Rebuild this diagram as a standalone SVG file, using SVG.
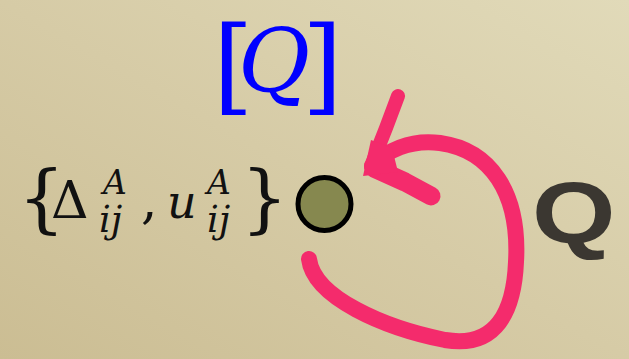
<svg xmlns="http://www.w3.org/2000/svg" width="629" height="359" viewBox="0 0 629 359">
  <defs>
    <linearGradient id="bg" x1="0" y1="1" x2="1" y2="0">
      <stop offset="0" stop-color="#cbbd93"/>
      <stop offset="0.5" stop-color="#d6cba6"/>
      <stop offset="1" stop-color="#e1dab9"/>
    </linearGradient>
    <style>
      .it { font-style: italic; }
      .blk { fill: #111; }
      .blue { fill: #0000ff; }
      .pink { fill: none; stroke: #f42b6c; stroke-linecap: round; stroke-linejoin: round; }
    </style>
  </defs>
  <rect width="629" height="359" fill="url(#bg)"/>

  <g id="label-bracket-q" font-family="'DejaVu Serif', serif">
    <text class="blue"><tspan x="213" y="101" font-size="104">[</tspan><tspan class="it" x="238" y="92" font-size="88">Q</tspan><tspan x="302" y="101" font-size="104">]</tspan></text>
  </g>

  <g id="label-set" font-family="'DejaVu Serif', serif">
    <text class="blk"><tspan x="18" y="224" font-size="74">{</tspan><tspan x="51" y="218" font-size="52">Δ</tspan><tspan class="it" x="103" y="194" font-size="33">A</tspan><tspan class="it" x="99" y="232" font-size="37">ij</tspan><tspan x="141" y="218" font-size="52">,</tspan><tspan class="it" x="167" y="218" font-size="46">u</tspan><tspan class="it" x="207" y="194" font-size="33">A</tspan><tspan class="it" x="207" y="232" font-size="37">ij</tspan><tspan x="241" y="224" font-size="74">}</tspan></text>
  </g>

  <g id="node-circle">
    <circle cx="324.5" cy="204" r="26.5" fill="#86884f" stroke="#000" stroke-width="5"/>
  </g>

  <g id="label-q">
    <text transform="translate(532 243) scale(1.22 1)" x="0" y="0" font-family="'Liberation Sans', Arial, sans-serif" font-weight="bold" font-size="88" fill="#3b3731">Q</text>
  </g>

  <g id="connectors">
    <path class="pink" stroke-width="16" d="M309 259 C314 298 385 328 445 340 C497 349 514 310 516 262 C520 192 490 150 440 143 C410 139 386 151 372 166"/>
    <path class="pink" stroke-width="14" d="M371 166 L386 128 L398 96"/>
    <path class="pink" stroke-width="19" d="M374 168 L405 182 L431 196"/>
    <path fill="#f42b6c" d="M363 176 L371 140 L392 148 L398 172 Z"/>
  </g>
</svg>
